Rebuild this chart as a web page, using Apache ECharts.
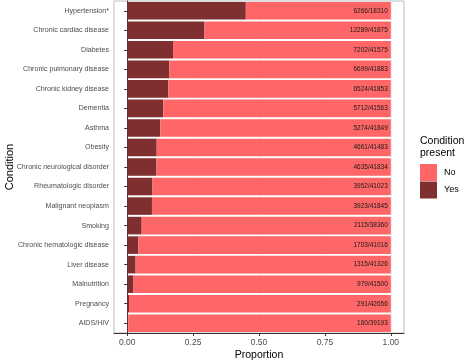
<!DOCTYPE html>
<html>
<head>
<meta charset="utf-8">
<script src="https://cdn.jsdelivr.net/npm/echarts@6/dist/echarts.min.js"></script>
<style>html,body{margin:0;padding:0;background:#fff;}#c{width:474px;height:362px;}</style>
</head>
<body>
<div id="c"></div>
<script>
const categories = ['Hypertension*','Chronic cardiac disease','Diabetes','Chronic pulmonary disease','Chronic kidney disease','Dementia','Asthma','Obesity','Chronic neurological disorder','Rheumatologic disorder','Malignant neoplasm','Smoking','Chronic hematologic disease','Liver disease','Malnutrition','Pregnancy','AIDS/HIV'];
const yesProportion = [0.450,0.293,0.174,0.160,0.156,0.137,0.126,0.112,0.111,0.096,0.094,0.055,0.042,0.032,0.024,0.007,0.004];
const countLabels = ['6266/18310','12289/41875','7202/41575','6699/41883','6524/41853','5712/41563','5274/41849','4661/41483','4635/41834','3952/41023','3923/41845','2115/38360','1703/41016','1315/41326','979/41500','291/42656','160/39193'];
const xTicks = [0, 0.25, 0.5, 0.75, 1];
const xTickLabels = ['0.00','0.25','0.50','0.75','1.00'];

const noProportion = yesProportion.map(v => 1 - v);
const chart = echarts.init(document.getElementById('c'), null, {renderer: 'canvas'});
const font = 'Liberation Sans, Arial, sans-serif';
chart.setOption({
  animation: false,
  textStyle: {fontFamily: font},
  title: {
    text: 'Condition\npresent', left: 420, top: 135, padding: 0,
    textStyle: {fontSize: 10.5, fontWeight: 'normal', color: '#000', lineHeight: 12, fontFamily: font}
  },
  legend: {
    data: ['No', 'Yes'], orient: 'vertical', left: 420, top: 164, padding: 0,
    itemWidth: 17, itemHeight: 17, itemGap: 0.5, icon: 'rect',
    textStyle: {fontSize: 9, color: '#000', padding: [0,0,0,2]}
  },
  grid: {left: 114, right: 70, top: 1, bottom: 29, show: true, borderColor: '#BDBDBD', borderWidth: 1,
    backgroundColor: '#fff', containLabel: false, outerBoundsMode: 'none'},
  xAxis: {
    type: 'value', min: -0.05, max: 1.05,
    name: 'Proportion', nameLocation: 'middle', nameGap: 17, nameMoveOverlap: false,
    nameTextStyle: {fontSize: 10.5, color: '#000'},
    axisLine: {show: true, onZero: false, lineStyle: {color: '#333'}},
    axisTick: {show: true, length: 3, customValues: xTicks, lineStyle: {color: '#333'}},
    axisLabel: {customValues: xTicks, fontSize: 8.5, color: '#4D4D4D', margin: 5,
      formatter: v => xTickLabels[xTicks.indexOf(+v.toFixed(2))] ?? ''},
    splitLine: {show: true, lineStyle: {color: '#EBEBEB', width: 0.8}}
  },
  yAxis: {
    type: 'category', data: categories, inverse: true,
    name: 'Condition', nameLocation: 'middle', nameGap: 99, nameRotate: 90, nameMoveOverlap: false,
    nameTextStyle: {fontSize: 11, color: '#000'},
    axisLine: {show: true, lineStyle: {color: '#333'}},
    axisTick: {show: true, length: 3, alignWithLabel: true, lineStyle: {color: '#333'}},
    axisLabel: {fontSize: 7.1, color: '#4D4D4D', margin: 5},
    splitLine: {show: false}
  },
  series: [
    {name: 'Yes', type: 'bar', stack: 's', data: yesProportion, barWidth: '90%',
      itemStyle: {color: '#7F2F30'}},
    {name: 'No', type: 'bar', stack: 's', data: noProportion, barWidth: '90%',
      itemStyle: {color: '#FE6667'},
      label: {show: true, position: 'insideRight', distance: 3, fontSize: 6.5, color: '#1a1a1a',
        formatter: p => countLabels[p.dataIndex]}}
  ]
});
</script>
</body>
</html>
